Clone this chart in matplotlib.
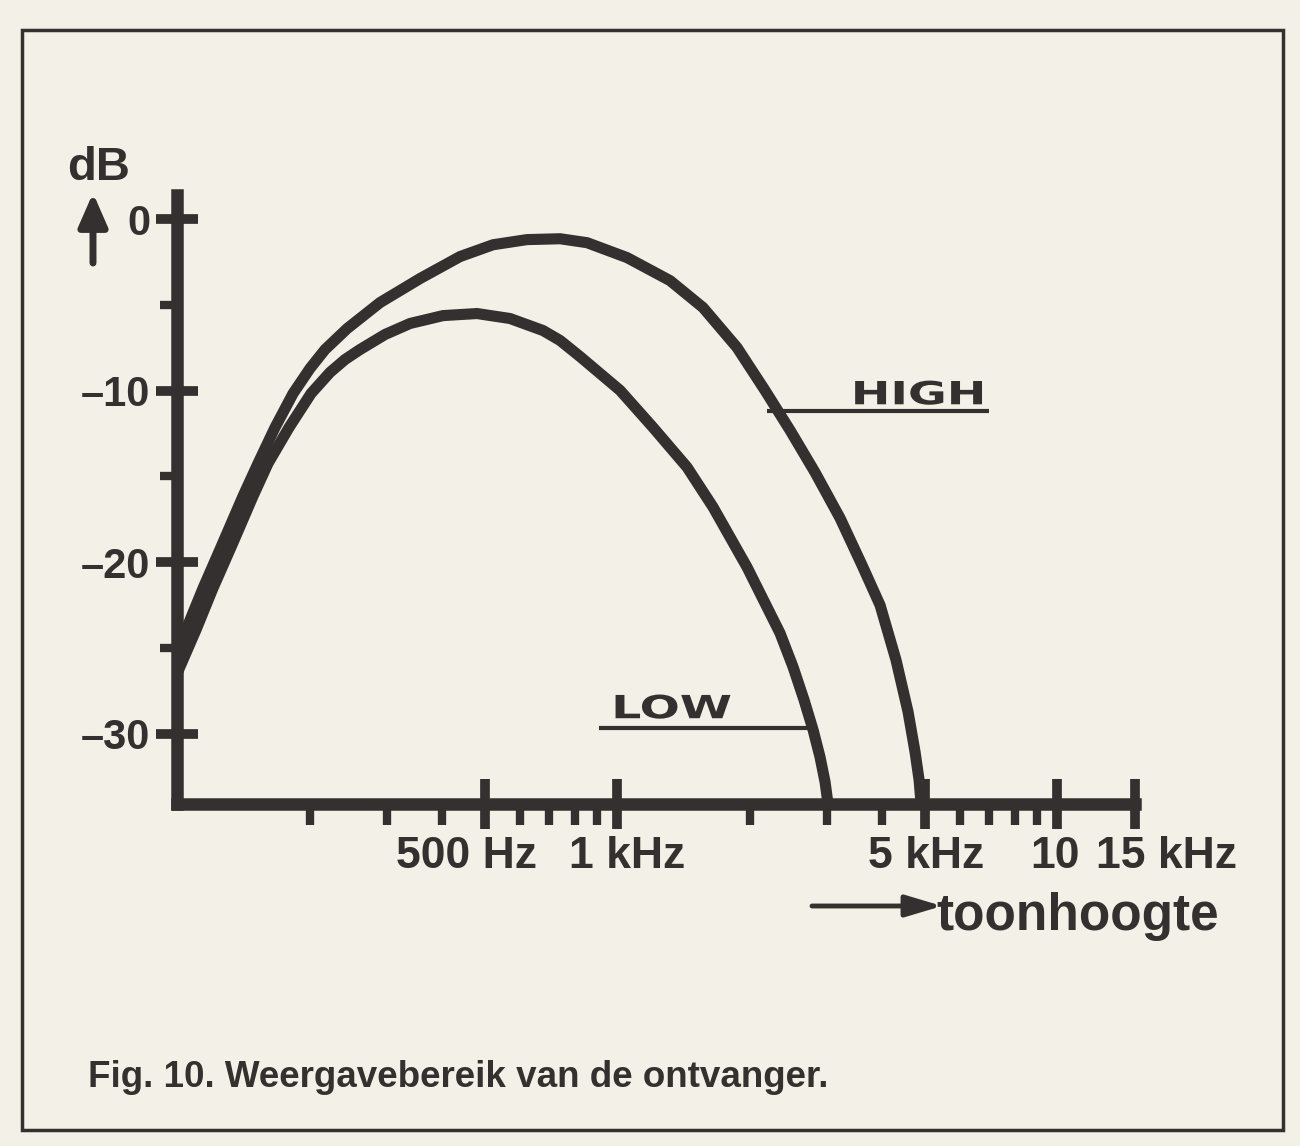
import numpy as np
import matplotlib.pyplot as plt
from matplotlib import patheffects
from matplotlib.patches import Rectangle
from matplotlib.transforms import Affine2D, ScaledTranslation

# curves (Hz, dB)
high_hz = [100, 104.8, 114.6, 125.9, 141.2, 152.8, 167.0, 183.5, 200.5, 216.9, 243.4, 289.2,
           356.5, 439.4, 522.3, 623.8, 741.6, 854, 1053, 1318, 1566, 1871, 2166, 2470, 2814,
           3208, 3598, 3954, 4298, 4578, 4748, 4849, 4900]
high_db = [-25.19, -23.96, -21.52, -19.12, -16.16, -14.24, -12.15, -10.17, -8.71, -7.61, -6.39, -4.87,
           -3.47, -2.19, -1.50, -1.20, -1.15, -1.38, -2.25, -3.59, -5.16, -7.49, -9.99, -12.32, -14.77,
           -17.44, -20.18, -22.51, -25.71, -28.74, -31.07, -32.70, -34.1]

low_hz = [100, 110.4, 120.7, 132.7, 148.8, 161.0, 179.7, 201.6, 222.6, 240.8, 260.4, 296.9,
          338.3, 402.0, 480.2, 570.8, 678.3, 741.6, 823.3, 1015, 1206, 1441, 1651, 1972,
          2343, 2508, 2657, 2786, 2888, 2965, 3012]
low_db = [-26.5, -23.96, -21.52, -19.12, -16.16, -14.24, -12.15, -10.17, -8.94, -8.19, -7.61, -6.73,
          -6.09, -5.63, -5.51, -5.80, -6.50, -7.08, -8.02, -9.99, -12.15, -14.47, -16.80, -20.30,
          -24.14, -26.11, -28.04, -29.79, -31.36, -32.81, -34.1]

major_hz = [500, 1000, 5000, 10000, 15000]
major_labels = ['500 Hz', '1 kHz', '5 kHz', '10', '15 kHz']
minor_hz = [200, 300, 400, 600, 700, 800, 900, 2000, 3000, 4000, 6000, 7000, 8000, 9000]
db_ticks = [0, -10, -20, -30]
db_labels = ['0', '–10', '–20', '–30']
db_minor = [-5, -15, -25]

ink = '#33302f'
paper = '#f3f0e7'

plt.rcParams['font.family'] = ['Liberation Sans', 'DejaVu Sans']
plt.rcParams['font.weight'] = 'bold'


class Wide(patheffects.AbstractPathEffect):
    # stretch text sideways, like the extended lettering of the labels
    def __init__(self, sx):
        super().__init__()
        self.sx = sx

    def draw_path(self, renderer, gc, tpath, affine, rgbFace=None):
        x0, y0 = affine.transform((0, 0))
        wide = affine + Affine2D().translate(-x0, -y0).scale(self.sx, 1).translate(x0, y0)
        renderer.draw_path(gc, tpath, wide, rgbFace)


W, H = 1300, 1146
fig = plt.figure(figsize=(W / 100, H / 100), dpi=100, facecolor=paper)
ax = fig.add_axes([177 / W, 1 - 804 / H, 958 / W, 609 / H])
ax.set_facecolor(paper)
ax.set_xscale('log')
ax.set_xlim(100, 15000)
ax.set_ylim(-34.1, 1.4)

ax.plot(high_hz, high_db, color=ink, lw=8, solid_joinstyle='round', zorder=2)
ax.plot(low_hz, low_db, color=ink, lw=8, solid_joinstyle='round', zorder=2)

for s in ['top', 'right']:
    ax.spines[s].set_visible(False)
for s in ['left', 'bottom']:
    ax.spines[s].set_linewidth(9)
    ax.spines[s].set_color(ink)

ax.set_xticks(major_hz, major_labels)
ax.set_xticks(minor_hz, minor=True)
ax.set_yticks(db_ticks, db_labels)
ax.set_yticks(db_minor, minor=True)
ax.tick_params(axis='x', which='major', direction='inout', length=36, width=7, color=ink,
               pad=5, labelsize=32, labelcolor=ink)
ax.tick_params(axis='x', which='minor', direction='out', length=15, width=6, color=ink,
               labelbottom=False)
ax.tick_params(axis='y', which='major', direction='inout', length=30, width=7, color=ink,
               pad=4, labelsize=30, labelcolor=ink)
ax.tick_params(axis='y', which='minor', direction='out', length=12, width=6, color=ink)

# hand lettered scale: labels sit a little off their ticks
for lab, dx in zip(ax.get_xticklabels(), [-18, 10, 1, -2, 32]):
    lab.set_transform(lab.get_transform() + ScaledTranslation(dx / 100, 0, fig.dpi_scale_trans))

# curve labels with leader lines
ax.plot([2190, 6975], [-11.2, -11.2], color=ink, lw=3, solid_capstyle='butt')
ax.text(3393, -10.8, 'HIGH', fontsize=23, color=ink, family='DejaVu Sans',
        va='baseline', ha='left', path_effects=[Wide(1.48)])
ax.plot([910, 2776], [-29.66, -29.66], color=ink, lw=3, solid_capstyle='butt')
ax.text(969, -29.1, 'LOW', fontsize=23, color=ink, family='DejaVu Sans',
        va='baseline', ha='left', path_effects=[Wide(1.48)])

# axis titles
fig.text(67 / W, 1 - 180 / H, 'dB', fontsize=34, color=ink, va='baseline', ha='left')
ax.annotate('', xy=(93 / W, 1 - 193 / H), xytext=(93 / W, 1 - 263 / H),
            xycoords='figure fraction', textcoords='figure fraction', annotation_clip=False,
            arrowprops=dict(arrowstyle='-|>,head_width=0.35,head_length=0.8', lw=5,
                            color=ink, shrinkA=0, shrinkB=0, mutation_scale=25))
ax.annotate('', xy=(942 / W, 1 - 906 / H), xytext=(812 / W, 1 - 906 / H),
            xycoords='figure fraction', textcoords='figure fraction', annotation_clip=False,
            arrowprops=dict(arrowstyle='-|>,head_width=0.3,head_length=1.0', lw=3.5,
                            color=ink, shrinkA=0, shrinkB=0, mutation_scale=22))
fig.text(936 / W, 1 - 930 / H, 'toonhoogte', fontsize=37, color=ink, va='baseline', ha='left')

fig.text(88 / W, 1 - 1087 / H, 'Fig. 10. Weergavebereik van de ontvanger.', fontsize=26.5,
         color=ink, va='baseline', ha='left')

# box round the figure
fig.add_artist(Rectangle((22 / W, 1 - 1130 / H), 1261 / W, 1100 / H, transform=fig.transFigure,
                         fill=False, lw=2.5, edgecolor=ink))

fig.savefig('out.png', dpi=100, facecolor=paper)
